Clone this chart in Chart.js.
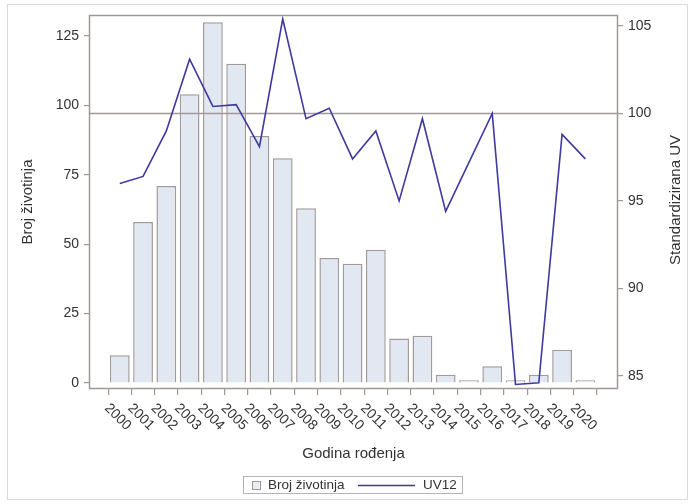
<!DOCTYPE html>
<html>
<head>
<meta charset="utf-8">
<script src="https://cdn.jsdelivr.net/npm/chart.js@4/dist/chart.umd.min.js"></script>
<style>
  html, body { margin: 0; padding: 0; background: #fff; }
  #wrap { width: 693px; height: 504px; position: relative; }
</style>
</head>
<body>
<div id="wrap"><canvas id="chart"></canvas></div>
<script>
const years = [2000, 2001, 2002, 2003, 2004, 2005, 2006, 2007, 2008, 2009, 2010,
               2011, 2012, 2013, 2014, 2015, 2016, 2017, 2018, 2019, 2020];
const animalCounts = [10, 58, 71, 104, 130, 115, 89, 81, 63, 45, 43,
                      48, 16, 17, 3, 1, 6, 1, 3, 12, 1];
const uv12 = [96.0, 96.4, 99.0, 103.1, 100.4, 100.5, 98.1, 105.4, 99.7, 100.3, 97.4,
              99.0, 95.0, 99.7, 94.4, 97.2, 100.0, 84.5, 84.6, 98.8, 97.4];
const countTicks = [0, 25, 50, 75, 100, 125];
const uvTicks = [85, 90, 95, 100, 105];
const uvReference = 100;

const FONT = "'Liberation Sans', Arial, sans-serif";
const frameColor = "#a39696";
const textColor = "#333333";
const lineColor = "#3e3a9e";

const decorations = {
    id: "decorations",
    beforeDraw(chart) {
        const { ctx, width, height } = chart;
        ctx.save();
        ctx.fillStyle = "#fff";
        ctx.fillRect(0, 0, width, height);
        ctx.strokeStyle = "#dadada";
        ctx.lineWidth = 1;
        ctx.strokeRect(7.5, 4.5, 680, 495);
        ctx.restore();
    },
    afterDatasetDraw(chart, args) {
        // reference line at UV = 100, above the bars and below the UV line
        if (args.index !== 0) return;
        const { ctx, chartArea } = chart;
        const y = Math.round(chart.scales.y2.getPixelForValue(uvReference)) + 0.5;
        ctx.save();
        ctx.strokeStyle = frameColor;
        ctx.lineWidth = 1.5;
        ctx.beginPath();
        ctx.moveTo(chartArea.left, y);
        ctx.lineTo(chartArea.right, y);
        ctx.stroke();
        ctx.restore();
    },
    afterDraw(chart) {
        const { ctx, chartArea } = chart;
        const xs = chart.scales.x;
        ctx.save();

        // plot frame
        ctx.strokeStyle = frameColor;
        ctx.lineWidth = 1.5;
        ctx.strokeRect(chartArea.left - 0.5, chartArea.top + 0.5,
            chartArea.right - chartArea.left + 1, chartArea.bottom - chartArea.top);

        // year labels, slanted downwards
        ctx.fillStyle = textColor;
        ctx.font = "14px " + FONT;
        ctx.textAlign = "left";
        ctx.textBaseline = "middle";
        years.forEach((yr) => {
            const x = xs.getPixelForValue(yr);
            ctx.save();
            ctx.translate(x - 13, chartArea.bottom + 18);
            ctx.rotate(Math.PI / 4);
            ctx.fillText(String(yr), 0, 0);
            ctx.restore();
        });

        // axis titles
        ctx.font = "15px " + FONT;
        ctx.textAlign = "center";
        ctx.fillText("Godina rođenja", (chartArea.left + chartArea.right) / 2, 454);
        ctx.save();
        ctx.translate(28, 202);
        ctx.rotate(-Math.PI / 2);
        ctx.fillText("Broj životinja", 0, 0);
        ctx.restore();
        ctx.save();
        ctx.translate(676, 200);
        ctx.rotate(-Math.PI / 2);
        ctx.fillText("Standardizirana UV", 0, 0);
        ctx.restore();

        // legend
        const [barSet, lineSet] = chart.data.datasets;
        ctx.strokeStyle = "#b4b4b4";
        ctx.lineWidth = 1;
        ctx.strokeRect(243.5, 476.5, 219, 17);
        ctx.fillStyle = "#e8edf4";
        ctx.fillRect(252, 481, 8, 8);
        ctx.strokeStyle = "#9a9a9a";
        ctx.strokeRect(252.5, 481.5, 8, 8);
        ctx.fillStyle = textColor;
        ctx.font = "13.5px " + FONT;
        ctx.textAlign = "left";
        ctx.fillText(barSet.label, 268, 485.5);
        ctx.strokeStyle = lineColor;
        ctx.lineWidth = 1.5;
        ctx.beginPath();
        ctx.moveTo(358, 485.5);
        ctx.lineTo(415, 485.5);
        ctx.stroke();
        ctx.fillText(lineSet.label, 423, 485.5);
        ctx.restore();
    },
};

const ctx = document.getElementById("chart");
const Mixed = new Chart(ctx, {
    type: "bar",
    data: {
        datasets: [
            {
                type: "bar",
                label: "Broj životinja",
                data: years.map((yr, i) => ({ x: yr, y: animalCounts[i] })),
                yAxisID: "y",
                backgroundColor: "#e1e8f1",
                borderColor: "#a39a9a",
                borderWidth: 1.5,
                barPercentage: 0.85,
                categoryPercentage: 1,
                order: 2,
            },
            {
                type: "line",
                label: "UV12",
                data: years.map((yr, i) => ({ x: yr, y: uv12[i] })),
                yAxisID: "y2",
                borderColor: lineColor,
                borderWidth: 1.6,
                pointRadius: 0,
                tension: 0,
                fill: false,
                order: 1,
            },
        ],
    },
    options: {
        responsive: true,
        maintainAspectRatio: false,
        animation: false,
        layout: { padding: { top: 15, left: 0, right: 0, bottom: 0 } },
        plugins: {
            legend: { display: false },
            tooltip: { enabled: false },
        },
        scales: {
            x: {
                type: "linear",
                min: 1999.26,
                max: 2020.82,
                afterBuildTicks: (scale) => {
                    scale.ticks = years.map((v) => ({ value: v }));
                },
                afterFit: (scale) => { scale.height = 116; },
                border: { display: false },
                grid: {
                    drawOnChartArea: false,
                    drawTicks: true,
                    tickLength: 7,
                    color: frameColor,
                    lineWidth: 1.2,
                },
                ticks: { display: false },
            },
            y: {
                position: "left",
                min: -1.8,
                max: 132.6,
                afterBuildTicks: (scale) => {
                    scale.ticks = countTicks.map((v) => ({ value: v }));
                },
                afterFit: (scale) => { scale.width = 90; },
                border: { display: false },
                grid: {
                    drawOnChartArea: false,
                    drawTicks: true,
                    tickLength: 6,
                    color: frameColor,
                    lineWidth: 1.2,
                },
                ticks: {
                    padding: 5,
                    color: textColor,
                    font: { family: FONT, size: 14 },
                },
            },
            y2: {
                position: "right",
                min: 84.3,
                max: 105.63,
                afterBuildTicks: (scale) => {
                    scale.ticks = uvTicks.map((v) => ({ value: v }));
                },
                afterFit: (scale) => { scale.width = 76; },
                border: { display: false },
                grid: {
                    drawOnChartArea: false,
                    drawTicks: true,
                    tickLength: 6,
                    color: frameColor,
                    lineWidth: 1.2,
                },
                ticks: {
                    padding: 5,
                    color: textColor,
                    font: { family: FONT, size: 14 },
                },
            },
        },
    },
    plugins: [decorations],
});
</script>
</body>
</html>
